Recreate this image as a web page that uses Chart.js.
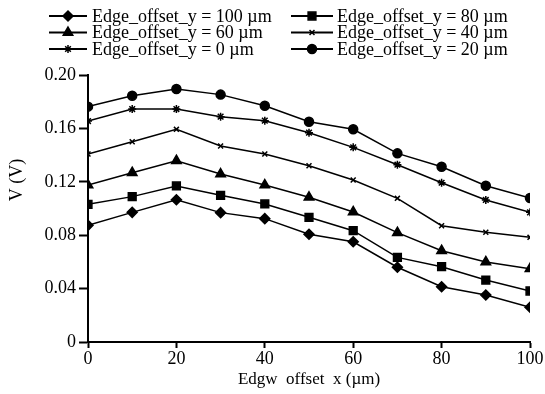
<!DOCTYPE html>
<html>
<head>
<meta charset="utf-8">
<script src="https://cdn.jsdelivr.net/npm/chart.js@4"></script>
<style>
    html, body { margin: 0; padding: 0; background: #fff; }
    #wrap { width: 545px; height: 394px; }
</style>
</head>
<body>
<div id="wrap"><canvas id="chart" width="545" height="394"></canvas></div>
<script>
// Données
const offsetsX = [0, 10, 20, 30, 40, 50, 60, 70, 80, 90, 100];
const xTicks = [0, 20, 40, 60, 80, 100];
const yTicks = [0, 0.04, 0.08, 0.12, 0.16, 0.20];

const labels = [
    'Edge_offset_y = 100 µm',
    'Edge_offset_y = 80 µm',
    'Edge_offset_y = 60 µm',
    'Edge_offset_y = 40 µm',
    'Edge_offset_y = 0 µm',
    'Edge_offset_y = 20 µm'
];

const v100 = [0.0874, 0.0971, 0.1066, 0.0969, 0.0924, 0.0807, 0.0751, 0.0560, 0.0414, 0.0352, 0.0260];
const v80  = [0.1031, 0.1089, 0.1169, 0.1099, 0.1034, 0.0934, 0.0834, 0.0634, 0.0564, 0.0464, 0.0382];
const v60  = [0.1176, 0.1268, 0.1358, 0.1258, 0.1176, 0.1084, 0.0974, 0.0819, 0.0684, 0.0600, 0.0549];
const v40  = [0.1408, 0.1500, 0.1593, 0.1468, 0.1408, 0.1320, 0.1213, 0.1076, 0.0871, 0.0822, 0.0784];
const v0   = [0.1655, 0.1745, 0.1745, 0.1688, 0.1658, 0.1568, 0.1458, 0.1328, 0.1193, 0.1064, 0.0971];
const v20  = [0.1763, 0.1845, 0.1895, 0.1853, 0.1770, 0.1650, 0.1593, 0.1413, 0.1313, 0.1170, 0.1079];

const series = [v100, v80, v60, v40, v0, v20];
const markers = ['rectRot', 'rect', 'triangle', 'crossRot', 'star', 'circle'];
const markerSizes = [5, 5.5, 5.5, 3.5, 4, 4.5];

const FONT = '"Liberation Serif", "Times New Roman", serif';

// Légende (2 colonnes, 3 lignes) et titre de l'axe Y dessinés à la main
const legendPlugin = {
    id: 'customLegend',
    afterDraw(chart) {
        const ctx = chart.ctx;
        const cols = [{ x0: 49, x1: 87, tx: 92 }, { x0: 291, x1: 333, tx: 337 }];
        const rows = [16, 32.5, 49];
        ctx.save();
        chart.data.datasets.forEach((ds, i) => {
            const c = cols[i % 2];
            const y = rows[Math.floor(i / 2)];
            ctx.strokeStyle = '#000';
            ctx.lineWidth = 2;
            ctx.beginPath();
            ctx.moveTo(c.x0, y);
            ctx.lineTo(c.x1, y);
            ctx.stroke();
            ctx.fillStyle = '#000';
            ctx.lineWidth = 1.5;
            Chart.helpers.drawPoint(ctx, {
                pointStyle: ds.pointStyle,
                radius: ds.pointRadius,
                borderWidth: 1.5
            }, (c.x0 + c.x1) / 2, y);
            ctx.fillStyle = '#000';
            ctx.font = '18px ' + FONT;
            ctx.textBaseline = 'middle';
            ctx.textAlign = 'left';
            ctx.fillText(labels[i], c.tx, y + 1);
        });

        // Titre de l'axe Y
        ctx.translate(17, 180);
        ctx.rotate(-Math.PI / 2);
        ctx.font = '18px ' + FONT;
        ctx.textAlign = 'center';
        ctx.textBaseline = 'middle';
        ctx.fillText('V (V)', 0, 0);
        ctx.restore();
    }
};

const datasets = series.map((vals, i) => ({
    label: labels[i],
    data: vals.map((v, k) => ({ x: offsetsX[k], y: v })),
    borderColor: '#000',
    backgroundColor: '#000',
    borderWidth: 1.5,
    pointStyle: markers[i],
    pointRadius: markerSizes[i],
    pointBorderWidth: 1.5,
    pointBackgroundColor: '#000',
    pointBorderColor: '#000',
    tension: 0
}));

new Chart(document.getElementById('chart'), {
    type: 'line',
    data: { datasets },
    plugins: [legendPlugin],
    options: {
        responsive: false,
        animation: false,
        layout: { padding: { top: 75, right: 15, left: 0, bottom: 0 } },
        plugins: {
            legend: { display: false },
            tooltip: { enabled: false }
        },
        scales: {
            x: {
                type: 'linear',
                min: 0,
                max: 100,
                afterFit: (scale) => { scale.height = 52; },
                afterBuildTicks: (scale) => {
                    scale.ticks = xTicks.map(v => ({ value: v }));
                },
                grid: {
                    display: true,
                    drawOnChartArea: false,
                    drawTicks: true,
                    tickLength: 6,
                    tickWidth: 2,
                    color: '#000'
                },
                border: { display: true, color: '#000', width: 2 },
                ticks: {
                    color: '#000',
                    font: { family: FONT, size: 18 },
                    padding: 0,
                    maxRotation: 0
                },
                title: {
                    display: true,
                    text: 'Edgw  offset  x (µm)',
                    color: '#000',
                    font: { family: FONT, size: 17 },
                    padding: { top: 0 }
                }
            },
            y: {
                min: 0,
                max: 0.2,
                afterFit: (scale) => { scale.width = 88; },
                afterBuildTicks: (scale) => {
                    scale.ticks = yTicks.map(v => ({ value: v }));
                },
                grid: {
                    display: true,
                    drawOnChartArea: false,
                    drawTicks: true,
                    tickLength: 9,
                    tickWidth: 2,
                    color: '#000'
                },
                border: { display: true, color: '#000', width: 2 },
                ticks: {
                    color: '#000',
                    font: { family: FONT, size: 18 },
                    padding: 3,
                    callback: (v) => v === 0 ? '0' : v.toFixed(2)
                }
            }
        }
    }
});
</script>
</body>
</html>
